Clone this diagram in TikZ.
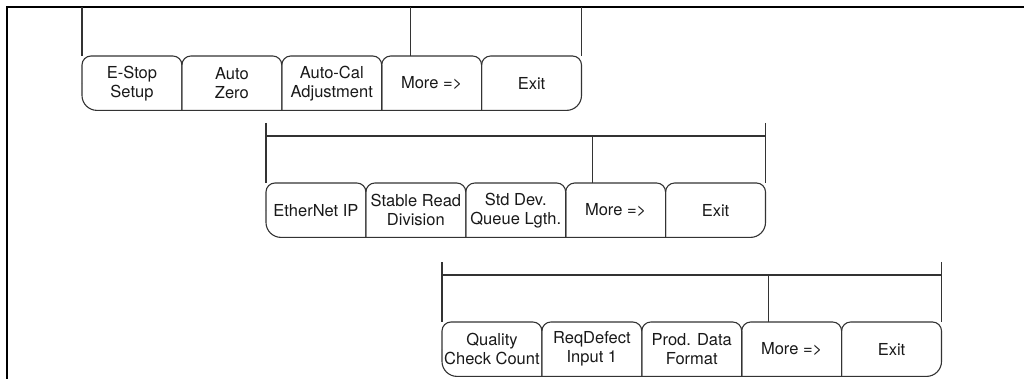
\documentclass[tikz,border=0pt]{standalone}
\usepackage{fontspec}
\setmainfont{TeX Gyre Heros}
\usetikzlibrary{positioning}
% outline of one row of soft keys: first key, middle keys, last key
\newcommand{\keyrow}[3]{%
  \draw[keytop] (#1.west) -- (#1.north west) -- (#1.north east) -- (#1.south east);
  \foreach \k in {#2}
    \draw[keytop] (\k.south west) -- (\k.north west) -- (\k.north east) -- (\k.south east);
  \draw[keytop] (#3.south west) -- (#3.north west) -- (#3.north east) -- (#3.east);
  \draw[keybase] (#1.west) -- (#1.south west) -- (#3.south east) -- (#3.east);
}

\begin{document}
\begin{tikzpicture}[x=1pt, y=-1pt,
  key/.style={minimum width=99.5pt, minimum height=54pt, inner sep=0pt, align=center,
    font=\fontsize{16.5}{19}\selectfont, text=black!90},
  edge/.style={draw=black!80, line width=1.1pt},
  keytop/.style={edge, rounded corners=9pt},
  keybase/.style={edge, rounded corners=15pt},
  frame/.style={line width=2.6pt}
]
\useasboundingbox (0,0) rectangle (1024,379);
\draw[frame] (7,381) -- (7,7) -- (1026,7);

% first menu
\node[key, anchor=north west] (estop) at (82,56) {E-Stop\\Setup};
\node[key, right=0pt of estop] (autozero) {Auto\\Zero};
\node[key, right=0pt of autozero] (autocal) {Auto-Cal\\Adjustment};
\node[key, right=0pt of autocal] (more1) {More =>};
\node[key, right=0pt of more1] (exit1) {Exit};
\keyrow{estop}{autozero,autocal,more1}{exit1}
\coordinate (top1) at (0,7);
\coordinate (split1) at ([xshift=29pt]more1.north west);
\draw[edge] (estop.north west |- top1) -- (estop.north west);
\draw[edge] (exit1.north east |- top1) -- (exit1.north east);
\draw[edge] (split1 |- top1) -- (split1);

% second menu
\node[key, anchor=north west] (ethernet) at (266,183) {EtherNet IP};
\node[key, right=0pt of ethernet] (stable) {Stable Read\\Division};
\node[key, right=0pt of stable] (stddev) {Std Dev.\\Queue Lgth.};
\node[key, right=0pt of stddev] (more2) {More =>};
\node[key, right=0pt of more2] (exit2) {Exit};
\keyrow{ethernet}{stable,stddev,more2}{exit2}
\coordinate (top2) at (0,123);
\coordinate (bar2) at (0,136);
\coordinate (split2) at ([xshift=27pt]more2.north west);
\draw[edge] (ethernet.north west |- top2) -- (ethernet.north west);
\draw[edge] (exit2.north east |- top2) -- (exit2.north east);
\draw[edge] (ethernet.north west |- bar2) -- (exit2.north east |- bar2);
\draw[edge] (split2 |- bar2) -- (split2);

% third menu
\node[key, anchor=north west] (quality) at (442,322) {Quality\\Check Count};
\node[key, right=0pt of quality] (reqdefect) {ReqDefect\\Input 1};
\node[key, right=0pt of reqdefect] (proddata) {Prod. Data\\Format};
\node[key, right=0pt of proddata] (more3) {More =>};
\node[key, right=0pt of more3] (exit3) {Exit};
\keyrow{quality}{reqdefect,proddata,more3}{exit3}
\coordinate (top3) at (0,262);
\coordinate (bar3) at (0,275);
\coordinate (split3) at ([xshift=27pt]more3.north west);
\draw[edge] (quality.north west |- top3) -- (quality.north west);
\draw[edge] (exit3.north east |- top3) -- (exit3.north east);
\draw[edge] (quality.north west |- bar3) -- (exit3.north east |- bar3);
\draw[edge] (split3 |- bar3) -- (split3);
\end{tikzpicture}
\end{document}
